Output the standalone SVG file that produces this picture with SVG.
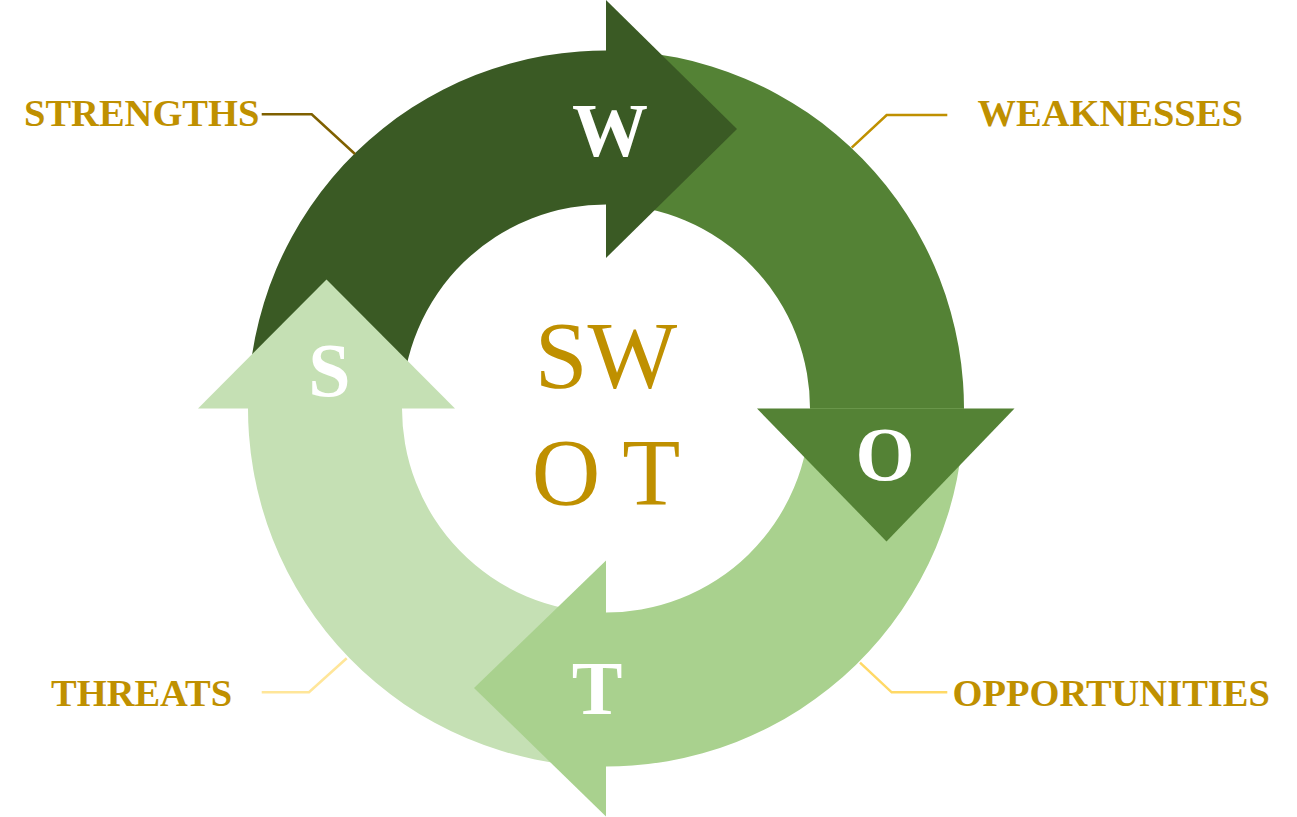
<svg xmlns="http://www.w3.org/2000/svg" width="1297" height="817" viewBox="0 0 1297 817">
  <style>
    .lbl { font-family: "Liberation Serif", "Times New Roman", serif; font-weight: bold; font-size: 38.5px; fill: #BF9000; }
    .ltr { font-family: "Liberation Serif", "Times New Roman", serif; font-weight: bold; font-size: 76px; fill: #FFFFFF; text-anchor: middle; }
    .ctr { font-family: "Liberation Serif", "Times New Roman", serif; font-size: 95px; fill: #BF9000; text-anchor: middle; }
    .lead { fill: none; stroke-width: 2.5; }
  </style>
  <rect width="1297" height="817" fill="#FFFFFF"/>

  <!-- arrow bodies (drawn first, heads on top) -->
  <g id="bodies">
    <path id="body-w" fill="#3A5A24" d="M 248 408.5 A 358 358 0 0 1 615.37 50.62 L 611.34 204.57 A 204 204 0 0 0 402 408.5 Z"/>
    <path id="body-o" fill="#548235" d="M 606 50.5 A 358 358 0 0 1 963.88 417.87 L 809.93 413.84 A 204 204 0 0 0 606 204.5 Z"/>
    <path id="body-t" fill="#A9D18E" d="M 964 408.5 A 358 358 0 0 1 596.63 766.38 L 600.66 612.43 A 204 204 0 0 0 810 408.5 Z"/>
    <path id="body-s" fill="#C5E0B4" d="M 606 766.5 A 358 358 0 0 1 248.12 399.13 L 402.07 403.16 A 204 204 0 0 0 606 612.5 Z"/>
  </g>

  <g id="node-w">
    <polygon fill="#3A5A24" points="606,0 737,129 606,258"/>
    <text class="ltr" x="610" y="156">W</text>
  </g>
  <g id="node-o">
    <polygon fill="#548235" points="757,408.5 1014.5,408.5 886.5,541.5"/>
    <text class="ltr" x="885" y="480">O</text>
  </g>
  <g id="node-t">
    <polygon fill="#A9D18E" points="606,560.5 606,816.5 474,688"/>
    <text class="ltr" x="597" y="714">T</text>
  </g>
  <g id="node-s">
    <polygon fill="#C5E0B4" points="198,408.5 455,408.5 326.5,279.5"/>
    <text class="ltr" x="329.5" y="395.5">S</text>
  </g>

  <g id="center">
    <text class="ctr" x="606" y="388">SW</text>
    <text class="ctr" x="606" y="505">O T</text>
  </g>

  <g id="connectors">
    <polyline class="lead" stroke="#7F6000" points="261.7,114.3 311.7,114.3 355,154"/>
    <polyline class="lead" stroke="#BF9000" points="947.3,115 886.7,115 851.7,147.7"/>
    <polyline class="lead" stroke="#FFD966" points="947.3,692.3 891.7,692.3 860,662.7"/>
    <polyline class="lead" stroke="#FFE699" points="261.7,692.3 309,692.3 346.7,658.3"/>
  </g>

  <g id="label-strengths"><text class="lbl" x="24" y="125.5">STRENGTHS</text></g>
  <g id="label-weaknesses"><text class="lbl" x="977.5" y="125.5">WEAKNESSES</text></g>
  <g id="label-opportunities"><text class="lbl" x="952.5" y="705.5">OPPORTUNITIES</text></g>
  <g id="label-threats"><text class="lbl" x="51" y="705.5">THREATS</text></g>
</svg>
